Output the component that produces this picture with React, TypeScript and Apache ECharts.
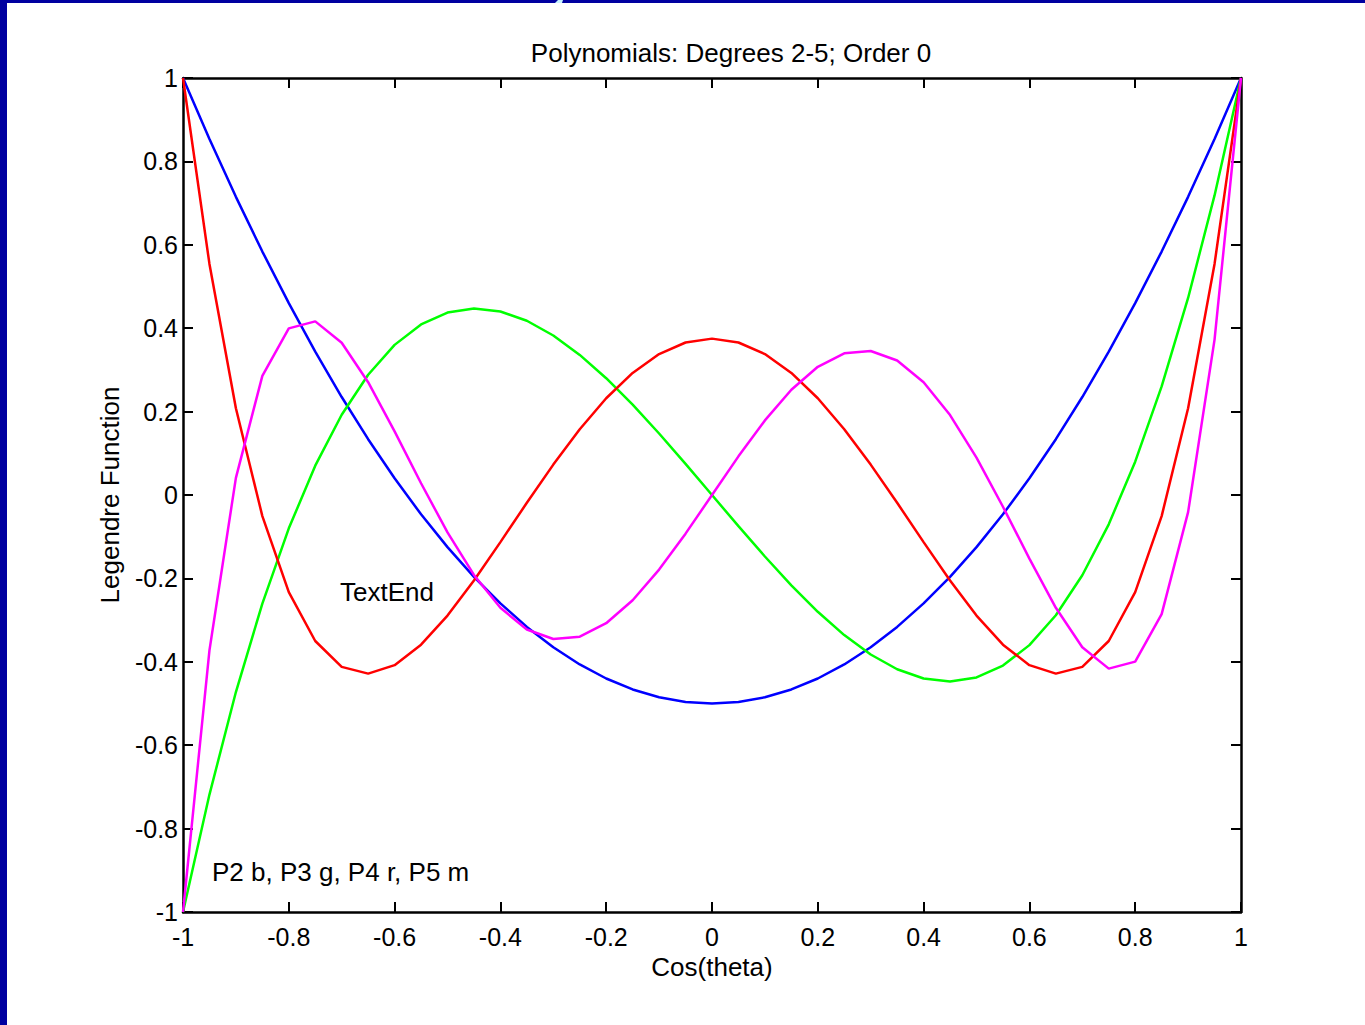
import React, { useEffect, useRef } from "react";
import * as echarts from "echarts";

const xs = [-1, -0.95, -0.9, -0.85, -0.8, -0.75, -0.7, -0.65, -0.6, -0.55, -0.5, -0.45, -0.4, -0.35, -0.3, -0.25, -0.2, -0.15, -0.1, -0.05, 0, 0.05, 0.1, 0.15, 0.2, 0.25, 0.3, 0.35, 0.4, 0.45, 0.5, 0.55, 0.6, 0.65, 0.7, 0.75, 0.8, 0.85, 0.9, 0.95, 1];

const p2 = [1, 0.8538, 0.715, 0.5838, 0.46, 0.3438, 0.235, 0.1338, 0.04, -0.0463, -0.125, -0.1963, -0.26, -0.3163, -0.365, -0.4063, -0.44, -0.4663, -0.485, -0.4963, -0.5, -0.4963, -0.485, -0.4663, -0.44, -0.4063, -0.365, -0.3163, -0.26, -0.1963, -0.125, -0.0463, 0.04, 0.1338, 0.235, 0.3438, 0.46, 0.5838, 0.715, 0.8538, 1];

const p3 = [-1, -0.7184, -0.4725, -0.2603, -0.08, 0.0703, 0.1925, 0.2884, 0.36, 0.4091, 0.4375, 0.4472, 0.44, 0.4178, 0.3825, 0.3359, 0.28, 0.2166, 0.1475, 0.0747, 0, -0.0747, -0.1475, -0.2166, -0.28, -0.3359, -0.3825, -0.4178, -0.44, -0.4472, -0.4375, -0.4091, -0.36, -0.2884, -0.1925, -0.0703, 0.08, 0.2603, 0.4725, 0.7184, 1];

const p4 = [1, 0.5541, 0.2079, -0.0506, -0.233, -0.3501, -0.4121, -0.4284, -0.408, -0.359, -0.2891, -0.205, -0.113, -0.0187, 0.0729, 0.1577, 0.232, 0.2928, 0.3379, 0.3657, 0.375, 0.3657, 0.3379, 0.2928, 0.232, 0.1577, 0.0729, -0.0187, -0.113, -0.205, -0.2891, -0.359, -0.408, -0.4284, -0.4121, -0.3501, -0.233, -0.0506, 0.2079, 0.5541, 1];

const p5 = [-1, -0.3727, 0.0411, 0.2857, 0.3995, 0.4164, 0.3652, 0.2705, 0.1526, 0.0282, -0.0898, -0.1917, -0.2706, -0.3225, -0.3454, -0.3397, -0.3075, -0.2523, -0.1788, -0.0927, 0, 0.0927, 0.1788, 0.2523, 0.3075, 0.3397, 0.3454, 0.3225, 0.2706, 0.1917, 0.0898, -0.0282, -0.1526, -0.2705, -0.3652, -0.4164, -0.3995, -0.2857, -0.0411, 0.3727, 1];

const seriesNames = ["P2", "P3", "P4", "P5"];
const seriesColors = ["#0000ff", "#00ff00", "#ff0000", "#ff00ff"];
const seriesValues = [p2, p3, p4, p5];

const titleText = "Polynomials: Degrees 2-5; Order 0";
const xName = "Cos(theta)";
const yName = "Legendre Function";
const note1 = "TextEnd";
const note2 = "P2 b, P3 g, P4 r, P5 m";

const FONT = "'Liberation Sans', Arial, Helvetica, sans-serif";
const FS = 26;
const TFS = 25;

export default function App() {
  const ref = useRef<HTMLDivElement>(null);
  useEffect(() => {
    if (!ref.current) return;
    const chart = echarts.init(ref.current, null, { renderer: "svg" });
    const axisLine = { show: true, onZero: false, lineStyle: { color: "#000", width: 2.5 } };
    const axisTick = { show: true, inside: true, length: 10, lineStyle: { color: "#000", width: 2 } };
    const labelStyle = { color: "#000", fontSize: FS, fontFamily: FONT };
    const tickLabelStyle = { color: "#000", fontSize: TFS, fontFamily: FONT };
    chart.setOption({
      animation: false,
      backgroundColor: "#ffffff",
      textStyle: { fontFamily: FONT },
      grid: { left: 183, right: 124, top: 78, bottom: 113, containLabel: false },
      graphic: [
        { type: "rect", left: 0, top: 0, shape: { width: 7, height: 1025 }, style: { fill: "#0000a0" } },
        { type: "rect", left: 0, top: 0, shape: { width: 1365, height: 3 }, style: { fill: "#0000a0" } },
        { type: "polygon", shape: { points: [[555, 3], [562, 3], [563, 0], [558, 0]] }, style: { fill: "#c8f4ff" } },
        { type: "text", x: 731, y: 53, style: { text: titleText, fill: "#000", fontSize: FS, fontFamily: FONT, align: "center", verticalAlign: "middle" } },
        { type: "text", x: 340, y: 592, style: { text: note1, fill: "#000", fontSize: FS, fontFamily: FONT, align: "left", verticalAlign: "middle" } },
        { type: "text", x: 212, y: 872, style: { text: note2, fill: "#000", fontSize: FS, fontFamily: FONT, align: "left", verticalAlign: "middle" } },
      ],
      xAxis: [
        {
          type: "value", min: -1, max: 1, interval: 0.2,
          name: xName, nameLocation: "middle", nameGap: 42,
          nameTextStyle: labelStyle,
          axisLine, axisTick, splitLine: { show: false },
          axisLabel: { ...tickLabelStyle, margin: 12 },
        },
        {
          type: "value", position: "top", min: -1, max: 1, interval: 0.2,
          axisLine, axisTick, splitLine: { show: false }, axisLabel: { show: false },
        },
      ],
      yAxis: [
        {
          type: "value", min: -1, max: 1, interval: 0.2,
          name: yName, nameLocation: "middle", nameGap: 60, nameRotate: 90,
          nameTextStyle: labelStyle,
          axisLine, axisTick, splitLine: { show: false },
          axisLabel: { ...tickLabelStyle, margin: 5 },
        },
        {
          type: "value", position: "right", min: -1, max: 1, interval: 0.2,
          axisLine, axisTick, splitLine: { show: false }, axisLabel: { show: false },
        },
      ],
      series: seriesValues.map((vals, i) => ({
        name: seriesNames[i],
        type: "line",
        xAxisIndex: 0,
        yAxisIndex: 0,
        data: xs.map((x, j) => [x, vals[j]]),
        showSymbol: false,
        symbol: "none",
        lineStyle: { color: seriesColors[i], width: 2.5 },
        itemStyle: { color: seriesColors[i] },
      })),
    });
    return () => chart.dispose();
  }, []);
  return (
    <div
      ref={ref}
      style={{ position: "absolute", left: 0, top: 0, width: 1365, height: 1025 }}
    />
  );
}
